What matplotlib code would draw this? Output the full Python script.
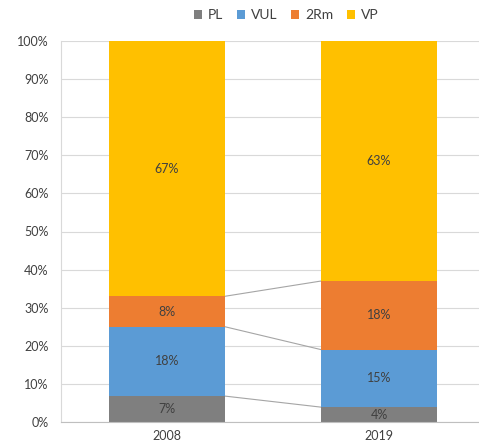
import matplotlib
matplotlib.use("Agg")
import matplotlib.pyplot as plt
import numpy as np

plt.rcParams["font.family"] = ["Lato", "DejaVu Sans"]

# data (percent shares)
years = ["2008", "2019"]
series = ["PL", "VUL", "2Rm", "VP"]
pl = [7, 4]
vul = [18, 15]
rm2 = [8, 18]
vp = [67, 63]
pl_h = [6.8, 3.9]
vul_h = [18.2, 15.1]
rm2_h = [8.0, 18.0]
vp_h = [67.0, 63.0]

colors = ["#7F7F7F", "#5B9BD5", "#ED7D31", "#FFC000"]

W, H = 479, 447
fig = plt.figure(figsize=(W / 100, H / 100), dpi=100)
ax = fig.add_axes([61 / W, (H - 422) / H, 424 / W, 381 / H])

x = np.arange(len(years))
bw = 0.547
bottom = np.zeros(len(years))
tops = []
for heights, labels, col, name in zip([pl_h, vul_h, rm2_h, vp_h],
                                       [pl, vul, rm2, vp], colors, series):
    ax.bar(x, heights, bw, bottom=bottom, color=col, label=name, zorder=2)
    for xi, b, h, lab in zip(x, bottom, heights, labels):
        ax.text(xi, b + h / 2, f"{lab}%", ha="center", va="center",
                fontsize=9, color="#404040", zorder=3)
    bottom = bottom + np.array(heights)
    tops.append(bottom.copy())

# series lines between the bars
for t in tops[:-1]:
    ax.plot([x[0] + bw / 2, x[1] - bw / 2], [t[0], t[1]],
            color="#A5A5A5", lw=0.8, zorder=1)

ax.set_xlim(-0.5, 1.5)
ax.set_ylim(0, 100)
ax.set_yticks(np.arange(0, 101, 10))
ax.set_yticklabels([f"{v}%" for v in range(0, 101, 10)])
ax.set_xticks(x)
ax.set_xticklabels(years)
ax.tick_params(length=0, labelsize=9, colors="#404040")
ax.tick_params(axis="y", pad=9)
ax.tick_params(axis="x", pad=6)
ax.yaxis.grid(True, color="#D9D9D9", lw=0.8, zorder=0)
ax.set_axisbelow(True)
for s in ["top", "right"]:
    ax.spines[s].set_visible(False)
ax.spines["left"].set_color("#D9D9D9")
ax.spines["bottom"].set_color("#BFBFBF")

fig.legend(loc="center", bbox_to_anchor=(286 / W, 1 - 15 / H), ncol=4,
           frameon=False, fontsize=10, handlelength=0.6, handleheight=0.6,
           handletextpad=0.4, columnspacing=1.0, labelcolor="#404040")

fig.savefig("out.png", dpi=100)
